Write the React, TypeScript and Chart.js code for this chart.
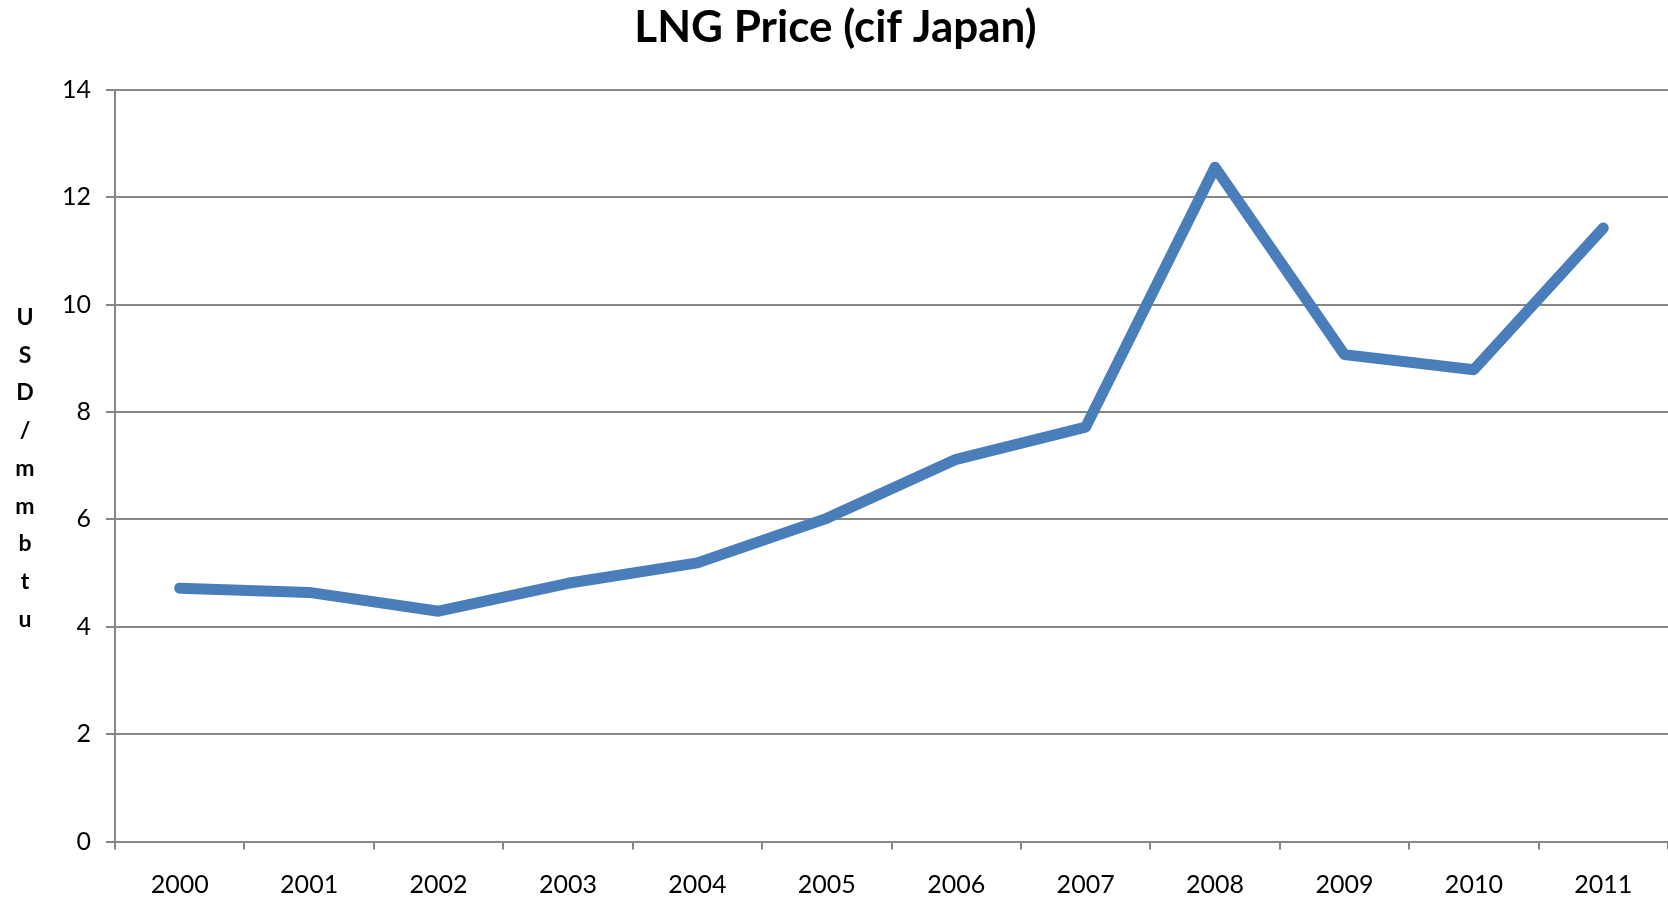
import React, { useEffect, useRef } from "react";
import { Chart, registerables } from "chart.js";

Chart.register(...registerables);

const TITLE = "LNG Price (cif Japan)";
const Y_TITLE_LETTERS = ["U", "S", "D", "/", "m", "m", "b", "t", "u"];
const YEARS = ["2000", "2001", "2002", "2003", "2004", "2005", "2006", "2007", "2008", "2009", "2010", "2011"];
const PRICES = [4.72, 4.64, 4.29, 4.81, 5.19, 6.02, 7.12, 7.72, 12.56, 9.07, 8.79, 11.43];
const Y_MIN = 0;
const Y_MAX = 14;
const Y_STEP = 2;

const FONT = "Lato, 'Liberation Sans', sans-serif";
const GRID = "#868686";
const LINE = "#4A7EBB";

const textPlugin = {
  id: "textPlugin",
  afterDraw(chart: any) {
    const ctx = chart.ctx;
    ctx.save();
    ctx.fillStyle = "#000";
    ctx.font = `bold 44px ${FONT}`;
    ctx.textAlign = "center";
    ctx.textBaseline = "alphabetic";
    ctx.fillText(TITLE, 835.5, 42);
    ctx.font = `bold 23px ${FONT}`;
    Y_TITLE_LETTERS.forEach((ch, i) => {
      ctx.fillText(ch, 25, 325 + i * 37.7);
    });
    ctx.restore();
  },
};

export default function App() {
  const ref = useRef<HTMLCanvasElement | null>(null);
  useEffect(() => {
    document.body.style.margin = "0";
    const chart = new Chart(ref.current as HTMLCanvasElement, {
      type: "line",
      data: {
        labels: YEARS,
        datasets: [
          {
            data: PRICES,
            borderColor: LINE,
            backgroundColor: LINE,
            borderWidth: 11,
            pointRadius: 0,
            tension: 0,
            borderCapStyle: "round",
            borderJoinStyle: "round",
          },
        ],
      },
      options: {
        responsive: false,
        animation: false,
        layout: { padding: { top: 90, left: 0, right: 0, bottom: 0 } },
        plugins: { legend: { display: false }, title: { display: false }, tooltip: { enabled: false } },
        scales: {
          x: {
            type: "category",
            offset: true,
            grid: { display: true, drawOnChartArea: false, drawTicks: true, tickLength: 8, offset: true, color: GRID, lineWidth: 2 },
            border: { display: true, color: GRID, width: 2 },
            ticks: { color: "#000", font: { family: FONT, size: 25 }, padding: 20, maxRotation: 0, autoSkip: false },
            afterFit: (s: any) => {
              s.height = 58.5;
            },
          },
          y: {
            min: Y_MIN,
            max: Y_MAX,
            ticks: { stepSize: Y_STEP, color: "#000", font: { family: FONT, size: 25 }, padding: 15 },
            grid: { color: GRID, lineWidth: 2, tickLength: 9, drawTicks: true },
            border: { display: true, color: GRID, width: 2 },
            afterFit: (s: any) => {
              s.width = 115;
            },
          },
        },
      },
      plugins: [textPlugin],
    });
    return () => chart.destroy();
  }, []);
  return (
    <div style={{ width: 1668, height: 900, background: "#fff" }}>
      <canvas ref={ref} width={1668} height={900} style={{ display: "block" }} />
    </div>
  );
}
